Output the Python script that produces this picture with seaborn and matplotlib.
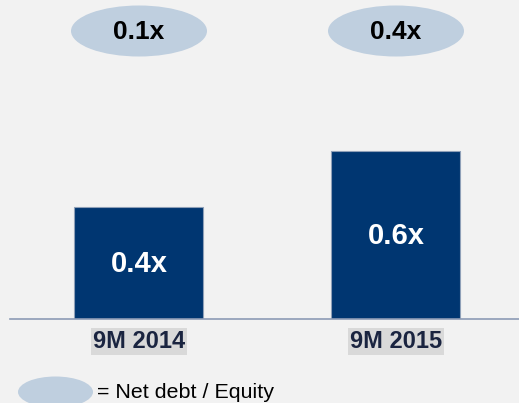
import matplotlib
matplotlib.use("Agg")
import matplotlib.pyplot as plt
from matplotlib.patches import Ellipse
import seaborn as sns
import pandas as pd

categories = ["9M 2014", "9M 2015"]
bar_values = [0.4, 0.6]
bar_labels = ["0.4x", "0.6x"]
ellipse_labels = ["0.1x", "0.4x"]
legend_text = "= Net debt / Equity"

W, H = 519, 403
BG = "#F2F2F2"
BAR = "#003671"
ELL = "#BFCFDF"

sns.set_theme(style="white")
plt.rcParams["font.family"] = ["Liberation Sans", "DejaVu Sans"]

fig = plt.figure(figsize=(W / 100, H / 100), dpi=100, facecolor=BG)

# axes: left 10px, right 519px, baseline at 319px from top, top at 0
ax = fig.add_axes([10 / W, (H - 319) / H, (W - 10) / W, 319 / H])
ax.set_facecolor(BG)
df = pd.DataFrame({"cat": categories, "val": bar_values})
sns.barplot(data=df, x="cat", y="val", color=BAR, width=129 / 257, ax=ax,
            edgecolor="#8FA0B8", linewidth=0.8, saturation=1)
ax.set_xlim(-129 / 257, 380 / 257)
ax.set_ylim(0, 319 / 280)
for s in ["top", "right", "left"]:
    ax.spines[s].set_visible(False)
ax.spines["bottom"].set_color("#8C9BB5")
ax.spines["bottom"].set_linewidth(1.2)
ax.set_yticks([])
ax.set_xlabel("")
ax.set_ylabel("")
ax.tick_params(axis="x", length=0, pad=8)
ax.set_xticks(range(len(categories)))
ax.set_xticklabels(categories, fontsize=17, fontweight="bold", color="#1A2440")
for t in ax.get_xticklabels():
    t.set_bbox(dict(facecolor="#D9D9D9", edgecolor="none", pad=1.2))

for i, (v, lab) in enumerate(zip(bar_values, bar_labels)):
    ax.text(i, v / 2 - 0.005, lab, ha="center", va="center", color="white",
            fontsize=21, fontweight="bold")

# overlay for ellipses and legend (pixel coordinates)
ov = fig.add_axes([0, 0, 1, 1], facecolor="none")
ov.set_xlim(0, W)
ov.set_ylim(H, 0)
ov.axis("off")
for i, lab in enumerate(ellipse_labels):
    cx = 139 + 257 * i
    ov.add_patch(Ellipse((cx, 31), 136, 51, facecolor=ELL, edgecolor="none"))
    ov.text(cx, 32, lab, ha="center", va="center", fontsize=19,
            fontweight="bold", color="black")

ov.add_patch(Ellipse((55.5, 392), 75, 31, facecolor=ELL, edgecolor="none"))
ov.text(97, 392, legend_text, ha="left", va="center", fontsize=15.4, color="black")

fig.savefig("out.png", dpi=100, facecolor=BG)
